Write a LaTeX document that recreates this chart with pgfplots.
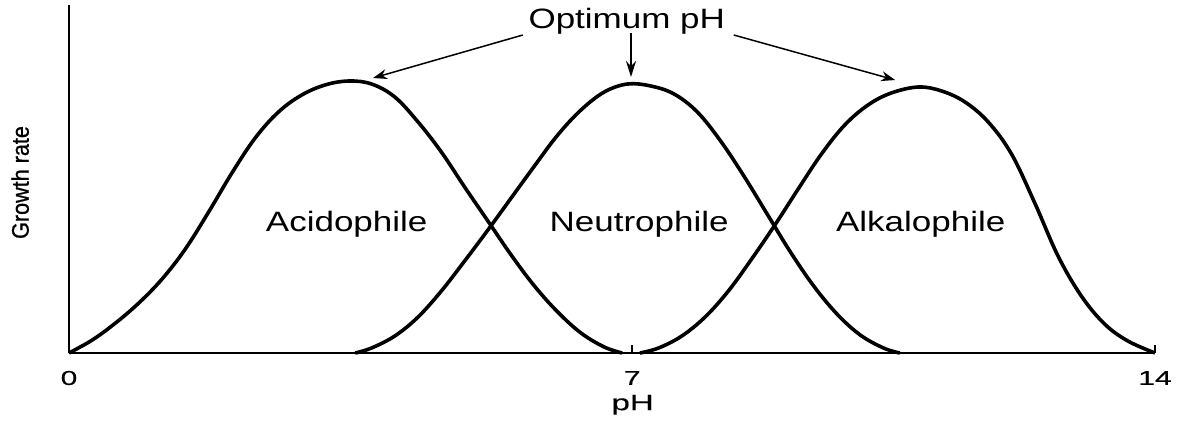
\documentclass[border=0pt]{standalone}
\usepackage{fontspec}
\setmainfont{Liberation Sans}
\newfontfamily\labfont[FakeStretch=1.25]{Liberation Sans}
\newfontfamily\tickfont[FakeStretch=1.5,FakeBold=0.4]{Liberation Sans}
\newfontfamily\ylabfont[FakeStretch=0.9,FakeBold=0.8]{Liberation Sans}
\usepackage{pgfplots}
\pgfplotsset{compat=1.18}
\usetikzlibrary{arrows.meta}
\begin{document}
\begin{tikzpicture}
\path[use as bounding box] (-34.5bp,-34bp) rectangle (558bp,176.5bp);
\begin{axis}[
  at={(0,0)}, anchor=south west,
  x=38.786bp, y=0.5bp,
  xmin=0, xmax=14, ymin=0, ymax=348,
  axis x line*=bottom, axis y line*=left,
  x axis line style={line width=1bp},
  y axis line style={line width=1.3bp},
  xtick={0,7.26,14}, xticklabels={0,7,14},
  ytick=\empty,
  tick align=inside, major tick length=4bp,
  xtick style={line width=0.8bp, black},
  /pgf/number format/assume math mode=true,
  xticklabel style={font=\tickfont\fontsize{10bp}{12bp}\selectfont, anchor=center, yshift=-12.5bp},
  xlabel={pH},
  xlabel style={font=\tickfont\fontsize{11bp}{12bp}\selectfont, at={(axis description cs:0.519,-0.149)}, anchor=center},
  ylabel={Growth rate},
  ylabel style={font=\ylabfont\fontsize{12bp}{14bp}\selectfont, at={(axis description cs:-0.045,0.49)}, anchor=center},
  clip=false,
]
% Acidophile
\addplot[black, line width=1.8bp, smooth, tension=0.6] coordinates {
 (0,0) (0.3,13) (0.6,30) (0.9,50) (1.2,74) (1.5,104) (1.8,141) (2.1,180) (2.4,215)
 (2.7,241) (3.0,258) (3.3,268) (3.6,272) (3.9,269) (4.2,256) (4.5,231) (4.8,201)
 (5.1,166) (5.4,132) (5.7,98) (6.0,67) (6.3,41) (6.6,20) (6.9,6) (7.13,0)};
% Neutrophile
\addplot[black, line width=1.8bp, smooth, tension=0.6] coordinates {
 (3.69,0) (3.9,5) (4.2,17) (4.5,36) (4.8,62) (5.1,92) (5.4,123) (5.7,155) (6.0,187)
 (6.3,218) (6.6,243) (6.9,261) (7.2,269) (7.5,267) (7.8,259) (8.1,241) (8.4,212)
 (8.7,177) (9.0,139) (9.3,101) (9.6,67) (9.9,39) (10.2,18) (10.5,5) (10.71,0)};
% Alkalophile
\addplot[black, line width=1.8bp, smooth, tension=0.6] coordinates {
 (7.36,0) (7.6,5) (7.9,17) (8.2,36) (8.5,62) (8.8,94) (9.1,128) (9.4,164) (9.7,199)
 (10.0,228) (10.3,248) (10.6,260) (10.95,266) (11.25,262) (11.55,251) (11.85,231)
 (12.15,199) (12.45,150) (12.75,97) (13.05,57) (13.35,29) (13.65,12) (14,0)};
\node[font=\labfont\fontsize{14bp}{16bp}\selectfont, anchor=base] at (axis cs:3.58,122) {Acidophile};
\node[font=\labfont\fontsize{14bp}{16bp}\selectfont, anchor=base] at (axis cs:7.35,122) {Neutrophile};
\node[font=\labfont\fontsize{14bp}{16bp}\selectfont, anchor=base] at (axis cs:10.98,122) {Alkalophile};
\node[font=\labfont\fontsize{14bp}{16bp}\selectfont, anchor=base] at (axis cs:7.19,325) {Optimum pH};
\draw[line width=0.75bp, -{Stealth[length=7bp,width=5bp]}] (axis cs:5.85,318) -- (axis cs:3.92,275);
\draw[line width=1.1bp, -{Stealth[length=8bp,width=5bp]}] (axis cs:7.245,320) -- (axis cs:7.245,276);
\draw[line width=0.75bp, -{Stealth[length=7bp,width=5bp]}] (axis cs:8.57,318) -- (axis cs:10.65,273);
\end{axis}
\end{tikzpicture}
\end{document}
